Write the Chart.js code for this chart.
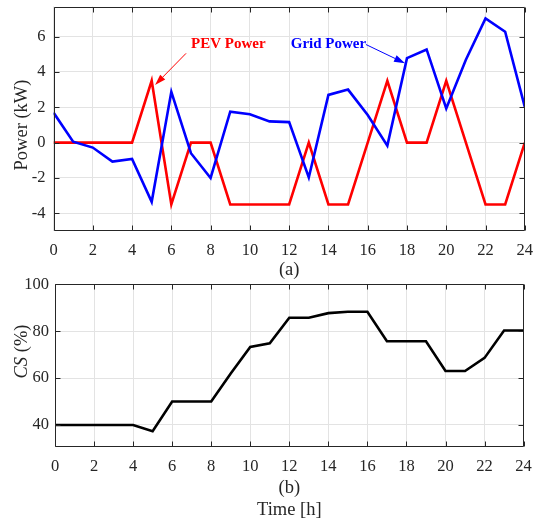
<!DOCTYPE html>
<html>
<head>
<meta charset="utf-8">
<script src="https://cdn.jsdelivr.net/npm/chart.js@4.4.0/dist/chart.umd.min.js"></script>
<style>
    html, body { margin: 0; padding: 0; background: #fff; }
    #wrap { position: relative; width: 536px; height: 522px; }
    #powerChart { position: absolute; left: 0; top: 0; }
    #csChart { position: absolute; left: 0; top: 265px; }
</style>
</head>
<body>
<div id="wrap">
    <canvas id="powerChart" width="536" height="280"></canvas>
    <canvas id="csChart" width="536" height="257"></canvas>
</div>
<script>
// Data
const hours = [0, 1, 2, 3, 4, 5, 6, 7, 8, 9, 10, 11, 12, 13, 14, 15, 16, 17, 18, 19, 20, 21, 22, 23, 24];
const gridPower = [1.7, 0.05, -0.28, -1.07, -0.92, -3.35, 2.87, -0.6, -2.0, 1.75, 1.6, 1.2, 1.16, -1.97, 2.7, 3.0, 1.56, -0.17, 4.78, 5.27, 1.93, 4.69, 7.03, 6.27, 2.02];
const pevPower = [0, 0, 0, 0, 0, 3.5, -3.5, 0, 0, -3.5, -3.5, -3.5, -3.5, 0, -3.5, -3.5, 0, 3.5, 0, 0, 3.5, 0, -3.5, -3.5, 0];
const chargeState = [40, 40, 40, 40, 40, 37.3, 50, 50, 50, 62, 73.3, 74.8, 85.7, 85.7, 87.7, 88.3, 88.3, 75.7, 75.7, 75.7, 63, 63, 68.6, 80.3, 80.3];

const hourTicks = [0, 2, 4, 6, 8, 10, 12, 14, 16, 18, 20, 22, 24];
const powerTicks = [-4, -2, 0, 2, 4, 6];
const csTicks = [40, 60, 80, 100];

const SERIF = '"Liberation Serif", "Times New Roman", serif';
const AXIS_COLOR = '#262626';

// Подписи со стрелками (в координатах данных)
const notes = [
    { text: 'PEV Power', color: '#ff0000', at: [8.9, 5.55], tail: [6.75, 5.05], tip: [5.17, 3.26] },
    { text: 'Grid Power', color: '#0000ff', at: [14.0, 5.55], tail: [15.91, 5.55], tip: [17.9, 4.49] }
];

function toPoints(values) {
    return hours.map((h, i) => ({ x: h, y: values[i] }));
}

// Рамка и внутренние засечки как в MATLAB
const matlabBox = {
    id: 'matlabBox',
    afterDraw(chart) {
        const { ctx, chartArea: a, scales } = chart;
        const L = Math.round(a.left) + 0.5, R = Math.round(a.right) - 0.5;
        const T = Math.round(a.top) + 0.5, B = Math.round(a.bottom) - 0.5;
        ctx.save();
        ctx.strokeStyle = AXIS_COLOR;
        ctx.lineWidth = 1;
        ctx.beginPath();
        ctx.rect(L, T, R - L, B - T);
        scales.x.ticks.forEach(t => {
            const px = Math.round(scales.x.getPixelForValue(t.value)) + 0.5;
            ctx.moveTo(px, B); ctx.lineTo(px, B - 5);
            ctx.moveTo(px, T); ctx.lineTo(px, T + 5);
        });
        scales.y.ticks.forEach(t => {
            const py = Math.round(scales.y.getPixelForValue(t.value)) + 0.5;
            ctx.moveTo(L, py); ctx.lineTo(L + 5, py);
            ctx.moveTo(R, py); ctx.lineTo(R - 5, py);
        });
        ctx.stroke();
        ctx.restore();
    }
};

// Подписи осей, нарисованные вручную
const axisText = {
    id: 'axisText',
    afterDraw(chart, args, opts) {
        const { ctx, chartArea: a } = chart;
        ctx.save();
        ctx.fillStyle = AXIS_COLOR;
        ctx.textAlign = 'center';
        ctx.textBaseline = 'middle';
        ctx.font = '18.5px ' + SERIF;
        const cx = (a.left + a.right) / 2;
        (opts.below || []).forEach(line => {
            ctx.fillText(line.text, cx, a.bottom + line.dy);
        });
        if (opts.yTitle) {
            const parts = opts.yTitle.parts;
            ctx.translate(opts.yTitle.x, opts.yTitle.y);
            ctx.rotate(-Math.PI / 2);
            let total = 0;
            parts.forEach(p => {
                ctx.font = (p.italic ? 'italic ' : '') + '18.5px ' + SERIF;
                p.w = ctx.measureText(p.text).width;
                total += p.w;
            });
            let x = -total / 2;
            ctx.textAlign = 'left';
            parts.forEach(p => {
                ctx.font = (p.italic ? 'italic ' : '') + '18.5px ' + SERIF;
                ctx.fillText(p.text, x, 0);
                x += p.w;
            });
        }
        ctx.restore();
    }
};

const arrowNotes = {
    id: 'arrowNotes',
    afterDatasetsDraw(chart) {
        const { ctx, scales: { x, y } } = chart;
        ctx.save();
        notes.forEach(n => {
            const tx = x.getPixelForValue(n.tail[0]), ty = y.getPixelForValue(n.tail[1]);
            const hx = x.getPixelForValue(n.tip[0]), hy = y.getPixelForValue(n.tip[1]);
            const ang = Math.atan2(hy - ty, hx - tx);
            const len = 11, half = 3.5;
            const bx = hx - len * Math.cos(ang), by = hy - len * Math.sin(ang);
            ctx.strokeStyle = n.color;
            ctx.fillStyle = n.color;
            ctx.lineWidth = 1;
            ctx.beginPath();
            ctx.moveTo(tx, ty);
            ctx.lineTo(bx, by);
            ctx.stroke();
            ctx.beginPath();
            ctx.moveTo(hx, hy);
            ctx.lineTo(bx + half * Math.sin(ang), by - half * Math.cos(ang));
            ctx.lineTo(bx - half * Math.sin(ang), by + half * Math.cos(ang));
            ctx.closePath();
            ctx.fill();
            ctx.font = 'bold 15px ' + SERIF;
            ctx.textAlign = 'center';
            ctx.textBaseline = 'middle';
            ctx.fillText(n.text, x.getPixelForValue(n.at[0]), y.getPixelForValue(n.at[1]));
        });
        ctx.restore();
    }
};

function makeScales(yMin, yMax, yTickList, yWidth, xHeight, yPad) {
    return {
        x: {
            type: 'linear',
            min: 0,
            max: 24,
            afterBuildTicks: s => { s.ticks = hourTicks.map(v => ({ value: v })); },
            afterFit: s => { s.height = xHeight; s.paddingLeft = 0; s.paddingRight = 0; },
            grid: { color: '#e3e3e3', drawTicks: false },
            border: { display: false },
            ticks: { color: AXIS_COLOR, font: { family: SERIF, size: 16.5 }, padding: 10, maxRotation: 0 }
        },
        y: {
            min: yMin,
            max: yMax,
            afterBuildTicks: s => { s.ticks = yTickList.map(v => ({ value: v })); },
            afterFit: s => { s.width = yWidth; s.paddingTop = 0; s.paddingBottom = 0; },
            grid: { color: '#e3e3e3', drawTicks: false },
            border: { display: false },
            ticks: { color: AXIS_COLOR, font: { family: SERIF, size: 16.5 }, padding: yPad }
        }
    };
}

Chart.defaults.animation = false;

new Chart(document.getElementById('powerChart'), {
    type: 'line',
    data: {
        datasets: [
            { label: 'Grid Power', data: toPoints(gridPower), borderColor: '#0000ff', borderWidth: 2.6, pointRadius: 0, tension: 0 },
            { label: 'PEV Power', data: toPoints(pevPower), borderColor: '#ff0000', borderWidth: 2.6, pointRadius: 0, tension: 0 }
        ]
    },
    options: {
        responsive: false,
        layout: { padding: { top: 6.5, right: 11.2, left: 0, bottom: 0 } },
        plugins: {
            legend: { display: false },
            tooltip: { enabled: false },
            axisText: {
                below: [{ text: '(a)', dy: 39 }],
                yTitle: { parts: [{ text: 'Power (kW)' }], x: 22.5, y: 125 }
            }
        },
        scales: makeScales(-5, 7.7, powerTicks, 53.5, 49, 8)
    },
    plugins: [matlabBox, axisText, arrowNotes]
});

new Chart(document.getElementById('csChart'), {
    type: 'line',
    data: {
        datasets: [
            { label: 'CS', data: toPoints(chargeState), borderColor: '#000000', borderWidth: 2.6, pointRadius: 0, tension: 0 }
        ]
    },
    options: {
        responsive: false,
        layout: { padding: { top: 19.3, right: 12.4, left: 0, bottom: 0 } },
        plugins: {
            legend: { display: false },
            tooltip: { enabled: false },
            axisText: {
                below: [{ text: '(b)', dy: 41.5 }, { text: 'Time [h]', dy: 63 }],
                yTitle: { parts: [{ text: 'CS', italic: true }, { text: ' (%)' }], x: 22, y: 86.5 }
            }
        },
        scales: makeScales(30.6, 100, csTicks, 55, 75, 6)
    },
    plugins: [matlabBox, axisText]
});
</script>
</body>
</html>
